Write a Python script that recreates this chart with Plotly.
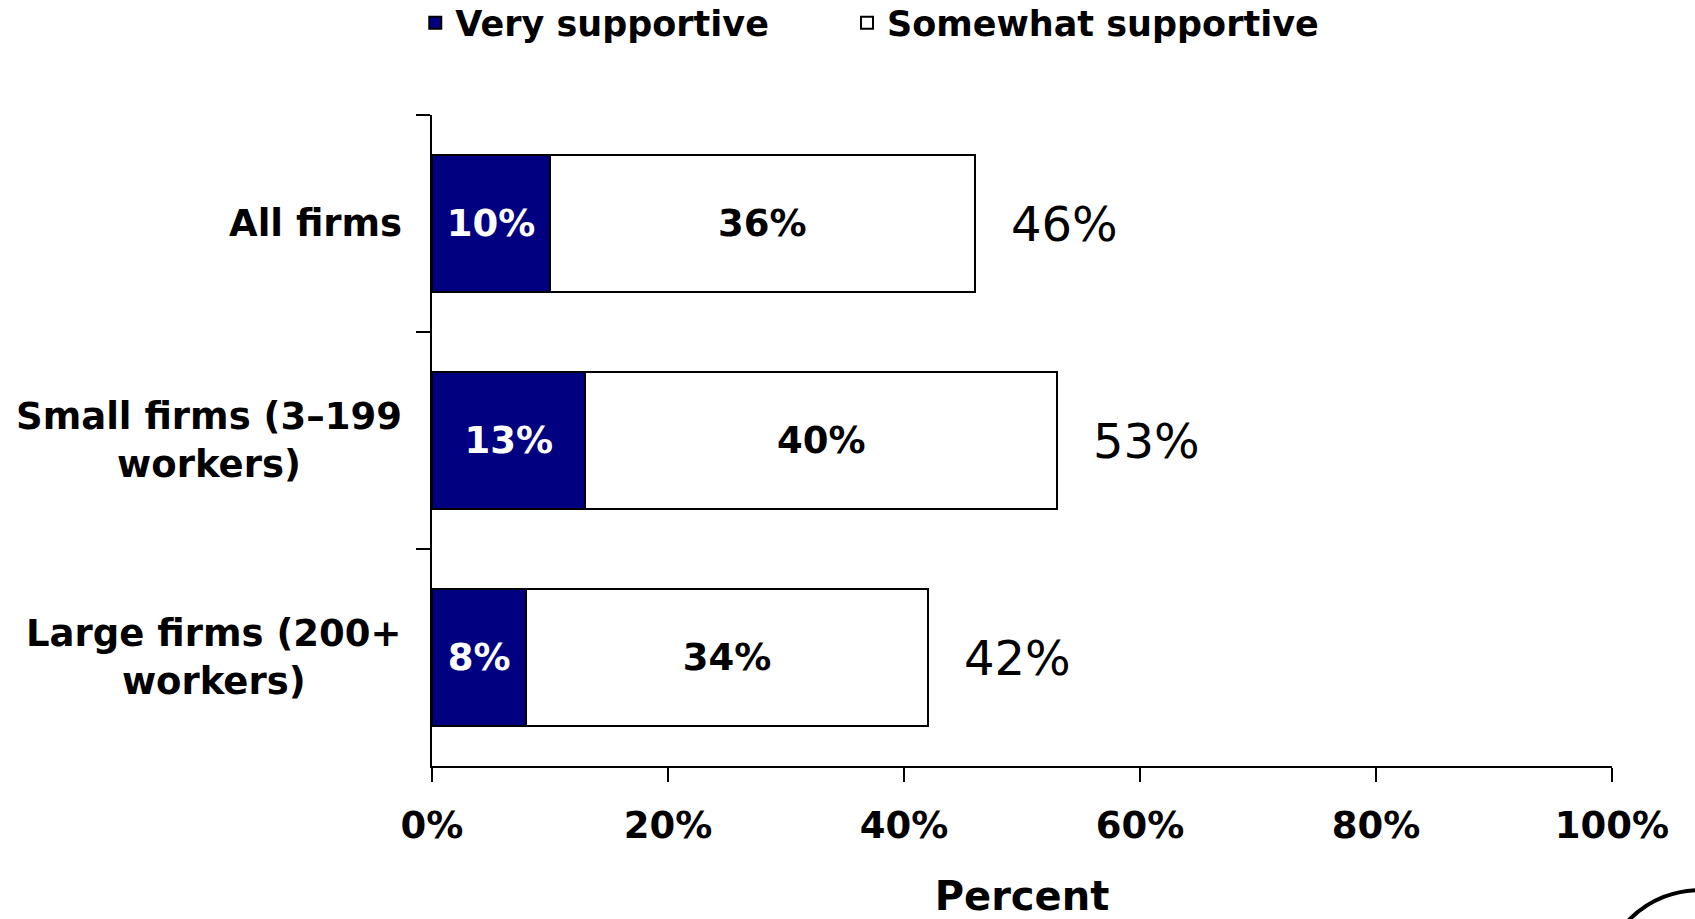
import plotly.graph_objects as go

categories = ["All firms", "Small firms (3–199<br>workers)", "Large firms (200+<br>workers)"]
very_supportive = [10, 13, 8]
somewhat_supportive = [36, 40, 34]
totals = [46, 53, 42]
x_ticks = [0, 20, 40, 60, 80, 100]
series_names = ["Very supportive", "Somewhat supportive"]

NAVY = "#000080"
FONT = "DejaVu Sans, Verdana, sans-serif"
PAD = "\u00a0" * 6

fig = go.Figure()
fig.add_trace(go.Bar(
    y=categories, x=very_supportive, orientation="h", name=series_names[0] + PAD,
    marker=dict(color=NAVY, line=dict(color="black", width=2)),
    text=[f"{v}%" for v in very_supportive], textposition="inside",
    insidetextanchor="middle", constraintext="none",
    textfont=dict(family=FONT, size=37, color="white", weight="bold"),
    width=0.63, hoverinfo="skip",
))
fig.add_trace(go.Bar(
    y=categories, x=somewhat_supportive, orientation="h", name=series_names[1],
    marker=dict(color="white", line=dict(color="black", width=2)),
    text=[f"{v}%" for v in somewhat_supportive], textposition="inside",
    insidetextanchor="middle", constraintext="none",
    textfont=dict(family=FONT, size=37, color="black", weight="bold"),
    width=0.63, hoverinfo="skip",
))

annotations = []
for cat, tot in zip(categories, totals):
    annotations.append(dict(
        x=tot, y=cat, xref="x", yref="y", text=f"{tot}%", showarrow=False,
        xanchor="left", yanchor="middle", xshift=34,
        font=dict(family=FONT, size=48, color="black"),
    ))
    annotations.append(dict(
        x=0, y=cat, xref="paper", yref="y", text=cat, showarrow=False,
        xanchor="right", yanchor="middle", align="center", xshift=-28,
        font=dict(family=FONT, size=37, color="black", weight="bold"),
    ))

fig.update_layout(
    width=1695, height=919,
    margin=dict(l=432, r=83, t=115, b=153, autoexpand=False),
    paper_bgcolor="white", plot_bgcolor="white",
    barmode="stack",
    showlegend=True,
    legend=dict(
        orientation="h", xref="container", yref="container",
        x=0.245, y=0.975, xanchor="left", yanchor="middle",
        font=dict(family=FONT, size=35, color="black", weight="bold"),
        traceorder="normal",
        bgcolor="rgba(0,0,0,0)",
    ),
    xaxis=dict(
        range=[0, 100], tickvals=x_ticks, ticktext=[f"{t}%" for t in x_ticks],
        showgrid=False, zeroline=False, automargin=False,
        showline=True, linecolor="black", linewidth=2,
        ticks="outside", ticklen=14, tickwidth=2, tickcolor="black",
        tickfont=dict(family=FONT, size=37, color="black", weight="bold"),
        ticklabelstandoff=12,
        title=dict(text="Percent", standoff=38,
                   font=dict(family=FONT, size=40, color="black", weight="bold")),
        fixedrange=True,
    ),
    yaxis=dict(
        categoryorder="array", categoryarray=categories, autorange="reversed",
        showgrid=False, zeroline=False, automargin=False,
        showline=True, linecolor="black", linewidth=2,
        ticks="outside", ticklen=14, tickwidth=2, tickcolor="black",
        tickson="boundaries", showticklabels=False,
        fixedrange=True,
    ),
    annotations=annotations,
    shapes=[dict(
        type="circle", xref="paper", yref="paper",
        x0=0.9907, x1=1.1585, y0=-0.4946, y1=-0.1905,
        line=dict(color="black", width=4),
    )],
)

fig.write_html("out.html", config={"displayModeBar": False})
